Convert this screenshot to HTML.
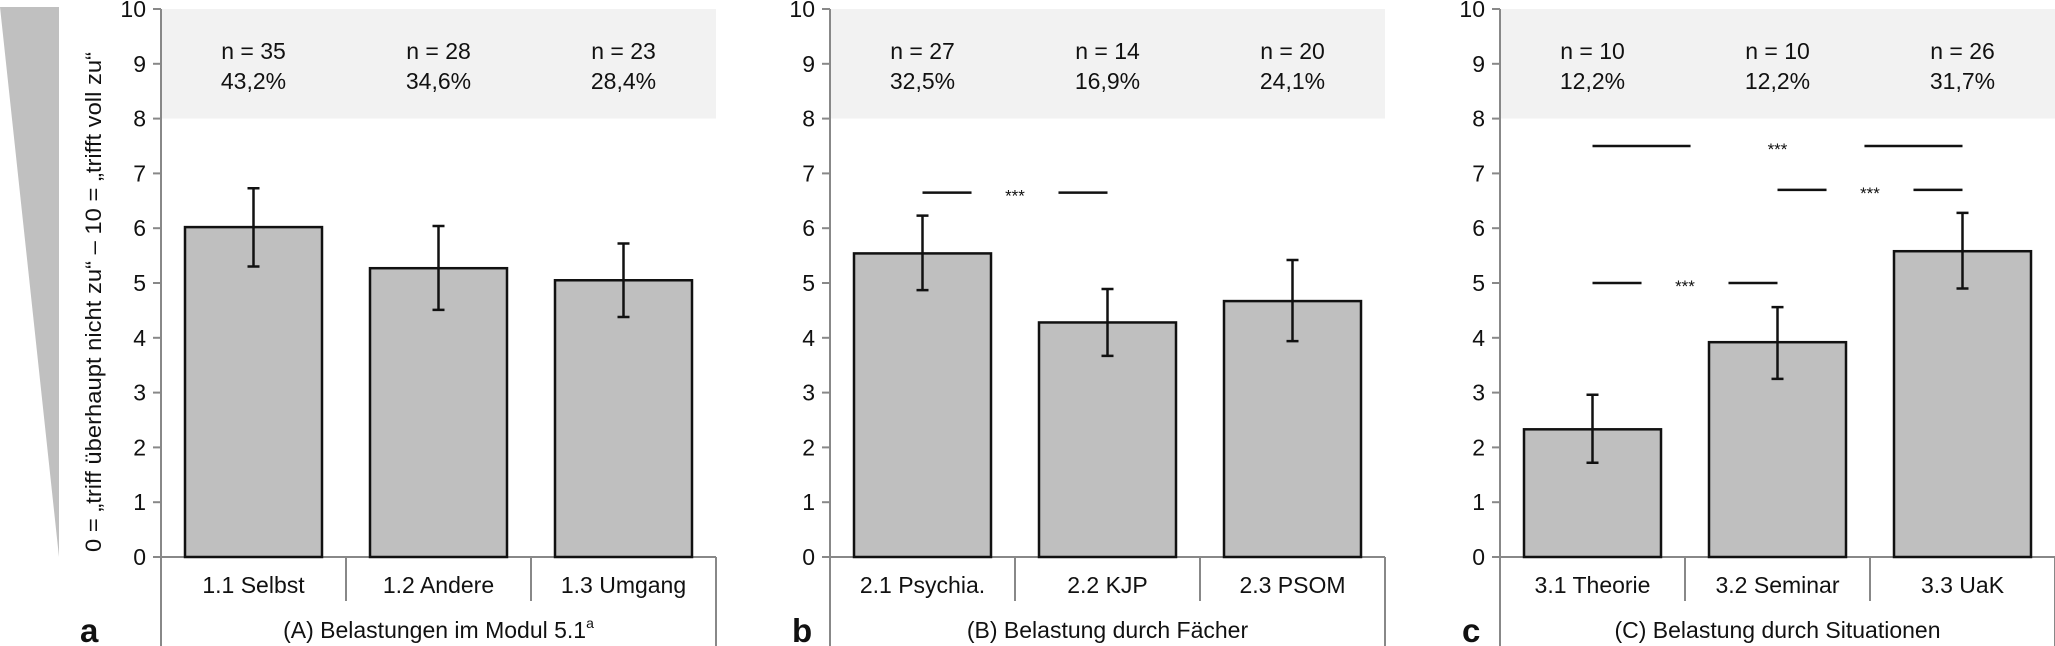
<!DOCTYPE html>
<html><head><meta charset="utf-8"><style>
html,body{margin:0;padding:0;background:#fff}
svg{display:block;font-family:"Liberation Sans",sans-serif}
</style></head><body>
<svg id="chart" width="2055" height="646" viewBox="0 0 2055 646">
<polygon points="0,7 59,7 59,557" fill="#c0c0c0"/>
<text x="0" y="0" transform="translate(101,302) rotate(-90)" text-anchor="middle" font-size="22" textLength="500" lengthAdjust="spacingAndGlyphs" fill="#111">0 = „triff überhaupt nicht zu“ – 10 = „trifft voll zu“</text>
</svg>
<script>
const panelLetters = ["a","b","c"];
const panelTitles = ["(A) Belastungen im Modul 5.1","(B) Belastung durch Fächer","(C) Belastung durch Situationen"];
const categoriesA = ["1.1 Selbst","1.2 Andere","1.3 Umgang"];
const categoriesB = ["2.1 Psychia.","2.2 KJP","2.3 PSOM"];
const categoriesC = ["3.1 Theorie","3.2 Seminar","3.3 UaK"];
const meansA = [6.02,5.27,5.05];
const meansB = [5.54,4.28,4.67];
const meansC = [2.33,3.92,5.58];
const upperA = [6.73,6.04,5.72];
const lowerA = [5.30,4.51,4.38];
const upperB = [6.23,4.89,5.42];
const lowerB = [4.87,3.67,3.94];
const upperC = [2.96,4.56,6.28];
const lowerC = [1.72,3.25,4.90];
const nLabelsA = ["n = 35","n = 28","n = 23"];
const nLabelsB = ["n = 27","n = 14","n = 20"];
const nLabelsC = ["n = 10","n = 10","n = 26"];
const pctLabelsA = ["43,2%","34,6%","28,4%"];
const pctLabelsB = ["32,5%","16,9%","24,1%"];
const pctLabelsC = ["12,2%","12,2%","31,7%"];
const yTicks = [0,1,2,3,4,5,6,7,8,9,10];
const bandFrom = 8;
const sigFromB = [0];
const sigToB = [1];
const sigYB = [6.65];
const sigFromC = [0,1,0];
const sigToC = [2,2,1];
const sigYC = [7.5,6.7,5.0];

const NS="http://www.w3.org/2000/svg";
const svg=document.getElementById('chart');
function mk(tag,attrs,parent){const e=document.createElementNS(NS,tag);for(const k in attrs)e.setAttribute(k,attrs[k]);(parent||svg).appendChild(e);return e;}
const Y0=557, PX=54.8;
function yScale(v){return Y0-v*PX;}
const catW=185;
const panels=[
 {x0:161,cats:categoriesA,m:meansA,u:upperA,l:lowerA,n:nLabelsA,p:pctLabelsA,sf:[],st:[],sy:[],letterX:80},
 {x0:830,cats:categoriesB,m:meansB,u:upperB,l:lowerB,n:nLabelsB,p:pctLabelsB,sf:sigFromB,st:sigToB,sy:sigYB,letterX:792},
 {x0:1500,cats:categoriesC,m:meansC,u:upperC,l:lowerC,n:nLabelsC,p:pctLabelsC,sf:sigFromC,st:sigToC,sy:sigYC,letterX:1462}
];
panels.forEach((P,pi)=>{
 const g=mk('g',{});
 
 
 const xScale=i=>P.x0+catW*i+catW/2;
 const x1=P.x0+catW*P.cats.length;
 const band=mk('rect',{x:P.x0,y:yScale(10),width:x1-P.x0,height:yScale(bandFrom)-yScale(10),fill:'#f2f2f2'},g);
 
 
 // axis
 const ax=mk('line',{x1:P.x0,y1:yScale(10),x2:P.x0,y2:646,stroke:'#888','stroke-width':2},g);
 
 
 yTicks.forEach(t=>{
  const tk=mk('line',{x1:P.x0-8,y1:yScale(t),x2:P.x0,y2:yScale(t),stroke:'#888','stroke-width':2},g);
  
  
  const tl=mk('text',{x:P.x0-15,y:yScale(t)+8,'text-anchor':'end','font-size':23,fill:'#111'},g);
  tl.textContent=t;
  
  
 });
 const base=mk('line',{x1:P.x0,y1:Y0,x2:x1,y2:Y0,stroke:'#888','stroke-width':2},g);
 
 
 const re=mk('line',{x1:x1,y1:Y0,x2:x1,y2:646,stroke:'#888','stroke-width':2},g);
 
 
 for(let i=1;i<P.cats.length;i++){
  const s=mk('line',{x1:P.x0+catW*i,y1:Y0,x2:P.x0+catW*i,y2:601,stroke:'#888','stroke-width':2},g);
  
  
 }
 P.cats.forEach((c,i)=>{
  const cx=xScale(i);
  const b=mk('rect',{x:cx-68.5,y:yScale(P.m[i]),width:137,height:Y0-yScale(P.m[i]),fill:'#bfbfbf',stroke:'#111','stroke-width':2.5},g);
  
  
  const e=mk('path',{d:`M${cx},${yScale(P.u[i])}V${yScale(P.l[i])}M${cx-6},${yScale(P.u[i])}H${cx+6}M${cx-6},${yScale(P.l[i])}H${cx+6}`,stroke:'#111','stroke-width':2.5,fill:'none'},g);
  
  
  const cl=mk('text',{x:cx,y:593,'text-anchor':'middle','font-size':23,fill:'#111'},g);
  cl.textContent=c;
  
  
  const nl=mk('text',{x:cx,y:59,'text-anchor':'middle','font-size':23,fill:'#111'},g);
  nl.textContent=P.n[i];
  
  
  const pl=mk('text',{x:cx,y:89,'text-anchor':'middle','font-size':23,fill:'#111'},g);
  pl.textContent=P.p[i];
  
  
 });
 P.sf.forEach((f,k)=>{
  const a=xScale(f), b2=xScale(P.st[k]), y=yScale(P.sy[k]);
  const L=(b2-a)*0.265;
  const sl=mk('path',{d:`M${a},${y}H${a+L}M${b2-L},${y}H${b2}`,stroke:'#111','stroke-width':2.5,fill:'none'},g);
  
  
  const st=mk('text',{x:(a+b2)/2,y:y+9,'text-anchor':'middle','font-size':17,fill:'#111'},g);
  st.textContent='***';
  
  
 });
 const tt=mk('text',{x:(P.x0+x1)/2,y:638,'text-anchor':'middle','font-size':23,fill:'#111'},g);
 tt.textContent=panelTitles[pi];
 if(pi===0){const sup=mk('tspan',{'font-size':14,dy:-10},tt);sup.textContent='a';}
 
 
 const lt=mk('text',{x:P.letterX,y:642,'font-size':33,'font-weight':'bold',fill:'#111'},g);
 lt.textContent=panelLetters[pi];
 
 
});
</script>
</body></html>
